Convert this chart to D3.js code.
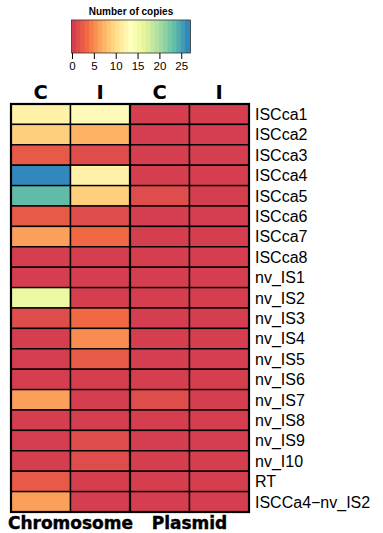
<!DOCTYPE html>
<html><head><meta charset="utf-8">
<script src="https://cdn.jsdelivr.net/npm/d3@7"></script>
<style>body{margin:0;background:#fff}</style></head>
<body><svg id="c" width="383" height="533"></svg>
<script>
const rowNames = ["ISCca1","ISCca2","ISCca3","ISCca4","ISCca5","ISCca6","ISCca7","ISCca8",
  "nv_IS1","nv_IS2","nv_IS3","nv_IS4","nv_IS5","nv_IS6","nv_IS7","nv_IS8","nv_IS9","nv_I10","RT","ISCCa4\u2212nv_IS2"];
const colLabels = ["C","I","C","I"];
const groupLabels = ["Chromosome","Plasmid"];
const chromosomeC = [12, 9, 2, 27, 24, 2, 6, 0, 0, 16, 1, 0, 0, 0, 6, 0, 0, 0, 2, 6];
const chromosomeI = [13, 7, 1, 12, 9, 1, 3, 0, 0, 0, 3, 5, 2, 0, 0, 0, 1, 1, 0, 0];
const plasmidC    = [0, 0, 0, 0, 1, 0, 0, 0, 0, 0, 0, 0, 0, 0, 1, 0, 0, 0, 0, 0];
const plasmidI    = [0, 0, 0, 0, 0, 0, 0, 0, 0, 0, 0, 0, 0, 0, 0, 0, 0, 0, 0, 0];
const legendTicks = [0, 5, 10, 15, 20, 25];
const legendTitle = "Number of copies";
const paletteColors = ["#d53e4f","#f46d43","#fdae61","#fee08b","#ffffbf","#e6f598","#abdda4","#66c2a5","#3288bd"];
const valueMax = 27;

const columns = [chromosomeC, chromosomeI, plasmidC, plasmidI];
const svg = d3.select("#c");

const color = d3.scaleLinear()
  .domain(paletteColors.map((_, i) => i * valueMax / (paletteColors.length - 1)))
  .range(paletteColors)
  .interpolate(d3.interpolateRgb);

const x = d3.scaleBand().domain(d3.range(columns.length)).range([11, 249]);
const y = d3.scaleBand().domain(rowNames).range([104, 512]);

const cells = [];
columns.forEach((col, ci) => col.forEach((v, ri) => cells.push({ci, row: rowNames[ri], v})));

svg.append("g").selectAll("rect").data(cells).join("rect")
  .attr("x", d => x(d.ci)).attr("y", d => y(d.row))
  .attr("width", x.bandwidth()).attr("height", y.bandwidth())
  .attr("fill", d => color(d.v))
  .attr("stroke", "#000").attr("stroke-width", 1.4);

// group divider and outer border
svg.append("line").attr("x1", x(2)).attr("x2", x(2)).attr("y1", 104).attr("y2", 512)
  .attr("stroke", "#000").attr("stroke-width", 2.2);
svg.append("rect").attr("x", 11).attr("y", 104).attr("width", 238).attr("height", 408)
  .attr("fill", "none").attr("stroke", "#000").attr("stroke-width", 2.2);

// column headers
svg.append("g").selectAll("text").data(colLabels).join("text")
  .attr("x", (d, i) => x(i) + x.bandwidth() / 2).attr("y", 98.5)
  .attr("text-anchor", "middle")
  .style("font-family", "DejaVu Sans").style("font-weight", "bold").style("font-size", "19.5px")
  .text(d => d);

// row labels
svg.append("g").selectAll("text").data(rowNames).join("text")
  .attr("x", 255).attr("y", d => y(d) + y.bandwidth() / 2)
  .attr("dy", "0.36em")
  .style("font-family", "Liberation Sans, Arial, sans-serif").style("font-size", "16px")
  .text(d => d);

// group labels
svg.append("g").selectAll("text").data(groupLabels).join("text")
  .attr("x", (d, i) => (x(i * 2) + x(i * 2 + 1) + x.bandwidth()) / 2).attr("y", 529)
  .attr("text-anchor", "middle")
  .style("font-family", "DejaVu Sans").style("font-weight", "bold").style("font-size", "17px")
  .attr("stroke", "#000").attr("stroke-width", 0.4)
  .text(d => d);

// legend
const lx = d3.scaleLinear().domain([0, valueMax]).range([72, 190]);
const nStrips = valueMax;
const strips = d3.range(nStrips).map(i => i);
const lg = svg.append("g");
lg.selectAll("rect").data(strips).join("rect")
  .attr("x", d => lx(d * valueMax / nStrips) - 0.5)
  .attr("y", 20)
  .attr("width", lx(valueMax / nStrips) - lx(0) + 1)
  .attr("height", 33)
  .attr("fill", d => color(d * valueMax / (nStrips - 1)));
lg.append("rect").attr("x", 71.5).attr("y", 20).attr("width", 119).attr("height", 33)
  .attr("fill", "none").attr("stroke", "#333").attr("stroke-width", 0.8);
const ax = lg.append("g").attr("transform", "translate(0,53)")
  .call(d3.axisBottom(lx).tickValues(legendTicks).tickSize(6).tickPadding(3));
ax.select(".domain").remove();
ax.selectAll("text").style("font-family", "Liberation Sans, Arial, sans-serif").style("font-size", "11.5px").attr("fill", "#000");
ax.selectAll("line").attr("stroke", "#000");
lg.append("text").attr("x", 131).attr("y", 15).attr("text-anchor", "middle")
  .style("font-family", "Liberation Sans, Arial, sans-serif").style("font-weight", "bold").style("font-size", "10px")
  .text(legendTitle);
</script></body></html>
